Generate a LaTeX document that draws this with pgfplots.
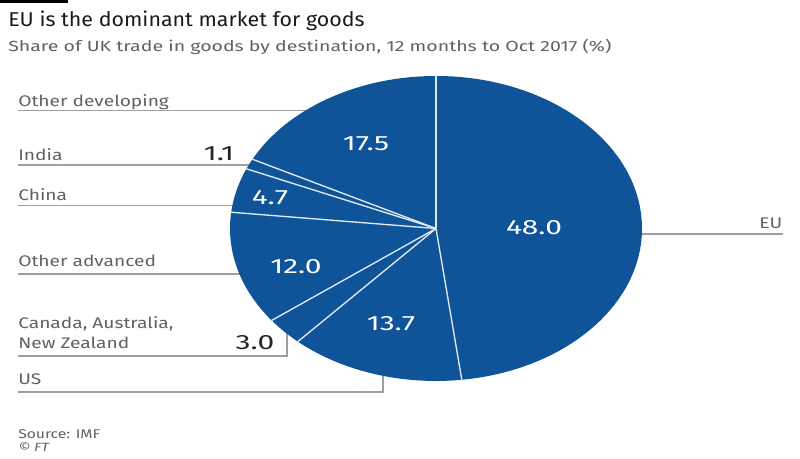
\documentclass[border=0pt]{standalone}
\usepackage{pgfplots}
\pgfplotsset{compat=1.18}
\usepackage{fontspec}
\setmainfont{Fira Sans}
\newfontfamily\titlefont[FakeStretch=1.07]{Fira Sans}
\newfontfamily\subfont[FakeStretch=1.33]{Fira Sans}
\newfontfamily\labfont[FakeStretch=1.25]{Fira Sans}
\newfontfamily\numfont[FakeStretch=1.45]{Fira Sans}
\newfontfamily\srcfont[FakeStretch=1.24]{Fira Sans}
\definecolor{ftblue}{HTML}{0F5499}
\definecolor{titlec}{HTML}{1A1A1A}
\definecolor{subc}{HTML}{66605C}
\definecolor{labc}{HTML}{66605C}
\definecolor{linec}{HTML}{9E9E9E}
% slice: #1 = cumulative share before the slice, #2 = share of the slice (percent)
\newcommand\slice[2]{%
  \fill[ftblue]
    (axis cs:436,230.5) -- (axis cs:{436+206*cos(90-3.6*#1)},{230.5+152.5*sin(90-3.6*#1)})
    arc[start angle={90-3.6*#1}, end angle={90-3.6*(#1+#2)}, x radius=154.5pt, y radius=114.375pt]
    -- cycle;}
\newcommand\sep[1]{%
  \draw[white!88!ftblue, line width=1pt]
    (axis cs:436,230.5) -- (axis cs:{436+206*cos(90-3.6*#1)},{230.5+152.5*sin(90-3.6*#1)});}
\begin{document}
\begin{tikzpicture}
\begin{axis}[
  width=600pt, height=344.25pt, scale only axis,
  xmin=0, xmax=800, ymin=0, ymax=459,
  hide axis, clip=false,
]
% leader lines (y = 459 - pixel row)
\draw[linec, line width=0.9pt] (axis cs:18,348.3) -- (axis cs:330,348.3);
\draw[linec, line width=0.9pt] (axis cs:18,294) -- (axis cs:270,294);
\draw[linec, line width=0.9pt] (axis cs:18,253.3) -- (axis cs:260,253.3);
\draw[linec, line width=0.9pt] (axis cs:18,185) -- (axis cs:260,185);
\draw[linec, line width=0.9pt] (axis cs:18,103) -- (axis cs:287,103) -- (axis cs:287,140);
\draw[linec, line width=0.9pt] (axis cs:18,67) -- (axis cs:383,67) -- (axis cs:383,95);
\draw[linec, line width=0.9pt] (axis cs:600,225) -- (axis cs:783,225);
% pie: shares of UK goods trade, clockwise from 12 o'clock
\slice{0}{48.0}   % EU
\slice{48.0}{13.7} % US
\slice{61.7}{3.0}  % Canada, Australia, New Zealand
\slice{64.7}{12.0} % Other advanced
\slice{76.7}{4.7}  % China
\slice{81.4}{1.1}  % India
\slice{82.5}{17.5} % Other developing
\sep{0}\sep{48.0}\sep{61.7}\sep{64.7}\sep{76.7}\sep{81.4}\sep{82.5}
% values
\tikzset{num/.style={white, font=\numfont\fontsize{15.5pt}{16pt}\selectfont}}
\node[num] at (axis cs:534,231) {48.0};
\node[num] at (axis cs:366,315.5) {17.5};
\node[num] at (axis cs:270,261) {4.7};
\node[num] at (axis cs:296,192) {12.0};
\node[num] at (axis cs:391,135) {13.7};
\node[num, black!85] at (axis cs:219,305) {1.1};
\node[num, black!85] at (axis cs:255,116.5) {3.0};
% category labels
\tikzset{lab/.style={labc, anchor=base west, inner sep=0pt, font=\labfont\fontsize{11.5pt}{13pt}\selectfont}}
\node[lab] at (axis cs:18,352.3) {Other developing};
\node[lab] at (axis cs:18,298) {India};
\node[lab] at (axis cs:18,258.3) {China};
\node[lab] at (axis cs:18,192.3) {Other advanced};
\node[lab] at (axis cs:18,130) {Canada, Australia,};
\node[lab] at (axis cs:18,110.7) {New Zealand};
\node[lab] at (axis cs:18,74) {US};
\node[lab, anchor=base east] at (axis cs:782.5,230.7) {EU};
% title block
\fill[black] (axis cs:0,459) rectangle (axis cs:68,455.7);
\node[titlec, anchor=base west, inner sep=0pt, font=\titlefont\fontsize{15pt}{18pt}\selectfont] at (axis cs:8,432.3) {EU is the dominant market for goods};
\node[subc, anchor=base west, inner sep=0pt, font=\subfont\fontsize{11pt}{13pt}\selectfont] at (axis cs:8,407.3) {Share of UK trade in goods by destination, 12 months to Oct 2017 (\%)};
\node[subc, anchor=base west, inner sep=0pt, font=\srcfont\fontsize{9.5pt}{11pt}\selectfont] at (axis cs:18,20.7) {Source: IMF};
\node[subc, anchor=base west, inner sep=0pt, font=\srcfont\fontsize{9pt}{11pt}\selectfont\itshape] at (axis cs:18,7) {\textcopyright\ FT};
\end{axis}
\pgfresetboundingbox
\useasboundingbox (0,0) rectangle (600pt,344.25pt);
\end{tikzpicture}
\end{document}
